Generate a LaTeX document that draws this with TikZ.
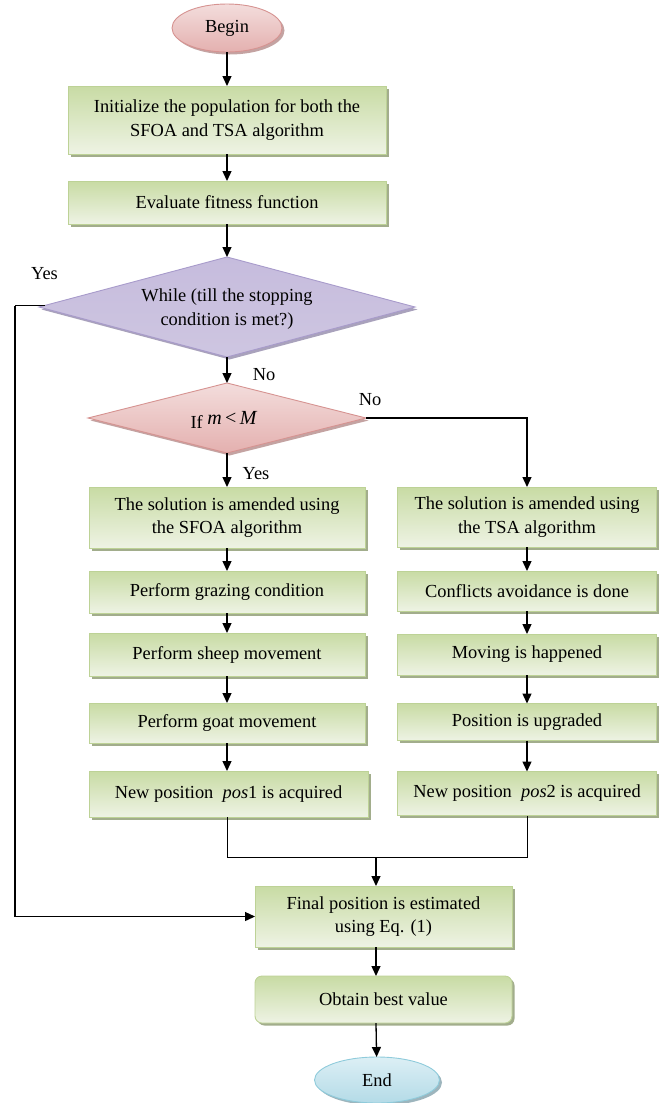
\documentclass[tikz,border=0pt]{standalone}
\usepackage{fontspec}
\setmainfont{Liberation Serif}
\usetikzlibrary{shapes.geometric,arrows.meta,shadows,calc}

% palette
\definecolor{boxtop}{HTML}{C8DBA4}
\definecolor{boxbot}{HTML}{EEF3E4}
\definecolor{boxline}{HTML}{BDD296}
\definecolor{boxshade}{HTML}{A2AD8C}
\definecolor{purtop}{HTML}{C6BCDD}
\definecolor{purmid}{HTML}{E8E4F0}
\definecolor{purbot}{HTML}{CEC6E1}
\definecolor{purline}{HTML}{A89BCB}
\definecolor{purshade}{HTML}{A9A2BC}
\definecolor{pinktop}{HTML}{F3DDDC}
\definecolor{pinkbot}{HTML}{E4B0AF}
\definecolor{pinkline}{HTML}{D69391}
\definecolor{pinkshade}{HTML}{C4A3A2}
\definecolor{bluetop}{HTML}{DCEFF5}
\definecolor{bluebot}{HTML}{B4DBE7}
\definecolor{blueline}{HTML}{8FCBDB}
\definecolor{blueshade}{HTML}{9DB5BD}

\tikzset{
  shadowed/.style={drop shadow={shadow xshift=2.5pt, shadow yshift=-2.5pt, fill=#1, opacity=1}},
  stepbox/.style={rectangle, draw=boxline, line width=0.9pt, top color=boxtop, bottom color=boxbot,
    shadowed=boxshade, align=center, inner sep=2pt, outer sep=0pt},
  roundbox/.style={stepbox, rounded corners=7pt},
  terminal/.style={ellipse, line width=0.9pt, inner sep=0pt, outer sep=0pt},
  startnode/.style={terminal, draw=pinkline, top color=pinktop, bottom color=pinkbot, shadowed=pinkshade},
  endnode/.style={terminal, draw=blueline, top color=bluetop, bottom color=bluebot, shadowed=blueshade},
  whiledia/.style={diamond, draw=purline, line width=0.9pt, inner sep=0pt, outer sep=0pt,
    top color=purtop, middle color=purmid, bottom color=purbot, shadowed=purshade},
  ifdia/.style={diamond, draw=pinkline, line width=0.9pt, inner sep=0pt, outer sep=0pt,
    top color=pinktop, bottom color=pinkbot, shadowed=pinkshade},
  diatext/.style={align=center, inner sep=0pt},
  tag/.style={inner sep=0pt},
  arr/.style={line width=1.3pt, -{Triangle[length=10pt,width=9pt]}},
  wire/.style={line width=1pt},
}

\begin{document}
\begin{tikzpicture}[x=1pt, y=-1pt, font=\fontsize{18.4}{23.5}\selectfont]
\useasboundingbox (0,0) rectangle (668,1103);

% main column
\node[startnode, minimum width=110pt, minimum height=48pt] (begin) at (227,28) {Begin};
\node[stepbox, minimum width=318pt, minimum height=68pt] (init) at (227,120)
  {Initialize the population for both the\\SFOA and TSA algorithm};
\node[stepbox, minimum width=318pt, minimum height=43pt] (eval) at (227,202.5) {Evaluate fitness function};
\node[whiledia, minimum width=376pt, minimum height=100pt] (d1) at (227,307) {};
\node[diatext] (d1t) at (227,309) {While (till the stopping\\condition is met?)};
\node[ifdia, minimum width=278pt, minimum height=70pt] (d2) at (227,418) {};
\node[diatext] (d2t) at (224,420) {If~\raisebox{4pt}{\fontsize{20}{20}\selectfont\textit{m}\,<\,\textit{M}}};

% SFOA column
\node[stepbox, minimum width=276pt, minimum height=61pt] (l1) at (227,517.5)
  {The solution is amended using\\the SFOA algorithm};
\node[stepbox, minimum width=276pt, minimum height=42pt] (l2) at (227,592) {Perform grazing condition};
\node[stepbox, minimum width=276pt, minimum height=43pt] (l3) at (227,654.5) {Perform sheep movement};
\node[stepbox, minimum width=276pt, minimum height=40pt] (l4) at (227,723) {Perform goat movement};
\node[stepbox, minimum width=279pt, minimum height=46pt] (l5) at (228.5,794)
  {New position~~\textit{pos}1 is acquired};

% TSA column
\node[stepbox, minimum width=259pt, minimum height=60pt] (r1) at (527,517)
  {The solution is amended using\\the TSA algorithm};
\node[stepbox, minimum width=259pt, minimum height=40pt] (r2) at (527,591) {Conflicts avoidance is done};
\node[stepbox, minimum width=259pt, minimum height=41pt] (r3) at (527,654.5) {Moving is happened};
\node[stepbox, minimum width=259pt, minimum height=37pt] (r4) at (527,722) {Position is upgraded};
\node[stepbox, minimum width=259pt, minimum height=44pt] (r5) at (527,793.5)
  {New position~~\textit{pos}2 is acquired};

% closing steps
\node[stepbox, minimum width=257pt, minimum height=61pt] (final) at (383.5,916.5)
  {Final position is estimated\\using Eq. (1)};
\node[roundbox, minimum width=257pt, minimum height=47pt] (best) at (383.5,999.5) {Obtain best value};
\node[endnode, minimum width=125pt, minimum height=46pt] (end) at (377,1080) {End};

% branch labels
\node[tag] (yes1) at (44.5,274) {Yes};
\node[tag] (no1) at (264,375) {No};
\node[tag] (no2) at (370,400) {No};
\node[tag] (yes2) at (256,474) {Yes};

% helper points
\coordinate (mrg) at (376,857);
\coordinate (loopstart) at ($(d1.west)!0.03!(d1.north)$);
\coordinate (loopcorner) at (15,0 |- loopstart);

% connectors
\draw[arr] (begin) -- (init);
\draw[arr] (init) -- (eval);
\draw[arr] (eval) -- (d1);
\draw[arr] (d1) -- (d2);
\draw[arr] (d2) -- (l1);
\draw[arr] (d2.east) -| (r1.north);
\draw[arr] (l1) -- (l2);
\draw[arr] (l2) -- (l3);
\draw[arr] (l3) -- (l4);
\draw[arr] (l4) -- (l4 |- l5.north);
\draw[arr] (r1) -- (r2);
\draw[arr] (r2) -- (r3);
\draw[arr] (r3) -- (r4);
\draw[arr] (r4) -- (r5);
\draw[wire] (l5.south -| l4) |- (mrg) -| (r5.south);
\draw[arr] (mrg) -- (mrg |- final.north);
\draw[wire] (loopstart) -- (loopcorner);
\draw[arr] (loopcorner) |- (final.west);
\draw[arr] (mrg |- final.south) -- (mrg |- best.north);
\draw[arr] (mrg |- best.south) -- (end);
\end{tikzpicture}
\end{document}
